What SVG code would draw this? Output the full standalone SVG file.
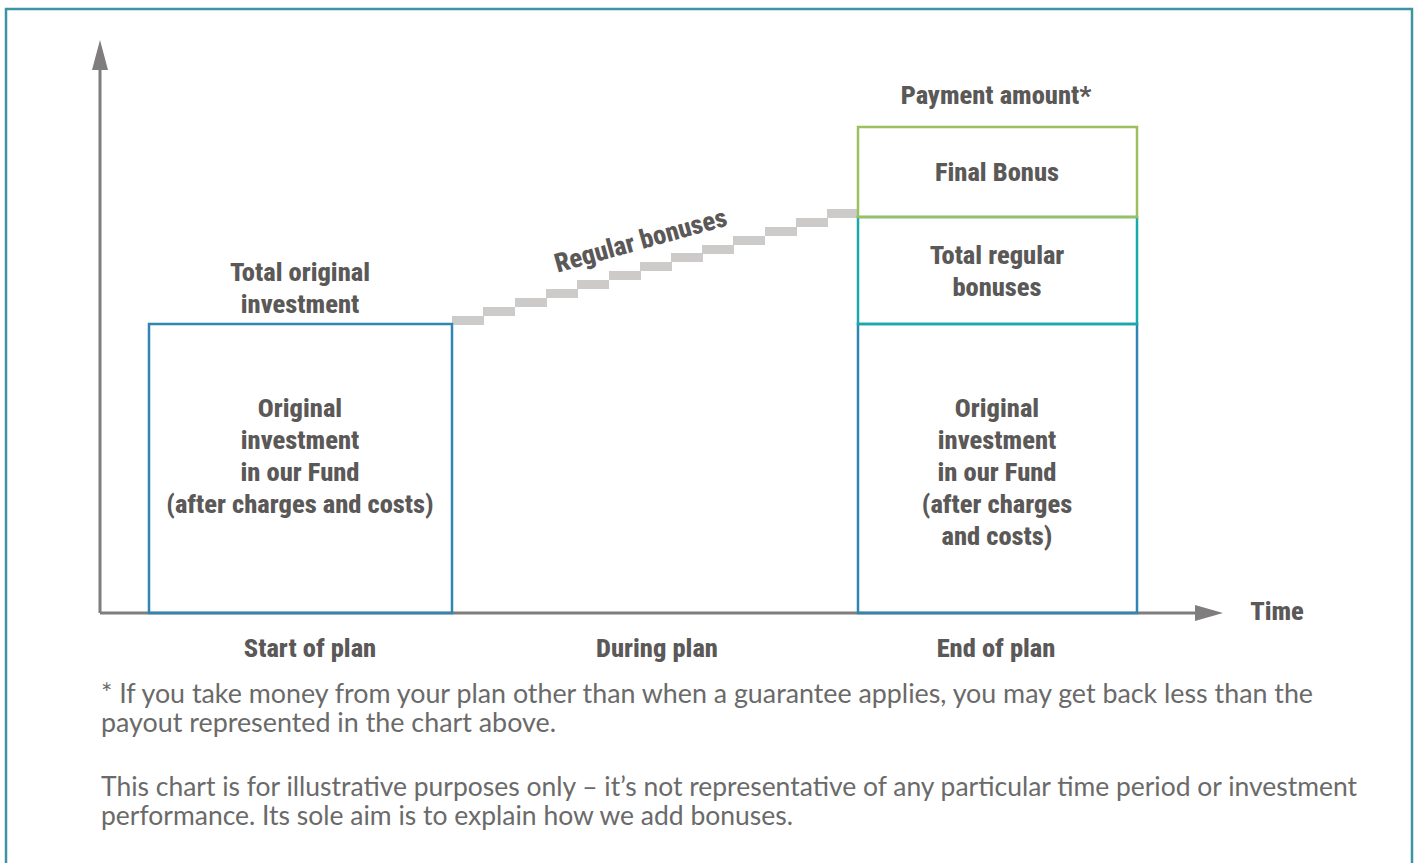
<svg xmlns="http://www.w3.org/2000/svg" width="1417" height="863" viewBox="0 0 1417 863">
<style>
.b{font-family:"Roboto Condensed","Roboto","Liberation Sans",sans-serif;font-stretch:condensed;font-weight:800;font-size:26.5px;fill:#5b5858;text-anchor:middle}
.n{font-family:"Lato","Open Sans","Liberation Sans",sans-serif;font-size:26px;fill:#6a6a6a}
.ax{stroke:#7f7d7d;stroke-width:3;fill:none}
.st{fill:#cccbca}
</style>
<rect width="1417" height="863" fill="#fff"/>
<path d="M6,870 V9 H1412 V870" fill="none" stroke="#3d95a3" stroke-width="2.5"/>
<g id="connectors">
<path d="M100,613 V70" class="ax"/>
<path d="M100,40 L108,70 L92,70 Z" fill="#7f7d7d"/>
<path d="M100,613 H1195" class="ax"/>
<path d="M1223,613 L1195,605 L1195,621 Z" fill="#7f7d7d"/>
</g>
<g id="stairs">
<rect class="st" x="452" y="316" width="32" height="9"/>
<rect class="st" x="483" y="307" width="32" height="9"/>
<rect class="st" x="515" y="298" width="32" height="9"/>
<rect class="st" x="546" y="289" width="32" height="9"/>
<rect class="st" x="577" y="280" width="32" height="9"/>
<rect class="st" x="609" y="271" width="32" height="9"/>
<rect class="st" x="640" y="262" width="32" height="9"/>
<rect class="st" x="671" y="253" width="32" height="9"/>
<rect class="st" x="702" y="245" width="32" height="9"/>
<rect class="st" x="733" y="236" width="32" height="9"/>
<rect class="st" x="765" y="227" width="32" height="9"/>
<rect class="st" x="796" y="218" width="32" height="9"/>
<rect class="st" x="827" y="209" width="31" height="9"/>
<text class="b" x="0" y="0" transform="translate(643,249) rotate(-15.5)">Regular bonuses</text>
</g>
<g id="start-box">
<rect x="149" y="324" width="303" height="289" fill="none" stroke="#2f86b4" stroke-width="2.5"/>
<text class="b" x="300" y="417">Original</text>
<text class="b" x="300" y="449">investment</text>
<text class="b" x="300" y="481">in our Fund</text>
<text class="b" x="300" y="513">(after charges and costs)</text>
</g>
<g id="start-label">
<text class="b" x="300" y="281">Total original</text>
<text class="b" x="300" y="313">investment</text>
</g>
<g id="end-original">
<rect x="858" y="324" width="279" height="289" fill="none" stroke="#2f86b4" stroke-width="2.5"/>
<text class="b" x="997" y="417">Original</text>
<text class="b" x="997" y="449">investment</text>
<text class="b" x="997" y="481">in our Fund</text>
<text class="b" x="997" y="513">(after charges</text>
<text class="b" x="997" y="545">and costs)</text>
</g>
<g id="end-regular">
<rect x="858" y="217" width="279" height="107" fill="none" stroke="#18aaa8" stroke-width="2.5"/>
<text class="b" x="997" y="264">Total regular</text>
<text class="b" x="997" y="296">bonuses</text>
</g>
<g id="end-final">
<rect x="858" y="127" width="279" height="90" fill="none" stroke="#9dbf5e" stroke-width="2.5"/>
<text class="b" x="997" y="181">Final Bonus</text>
</g>
<g id="labels">
<text class="b" x="996" y="104">Payment amount*</text>
<text class="b" x="1277" y="620">Time</text>
<text class="b" x="310" y="657">Start of plan</text>
<text class="b" x="657" y="657">During plan</text>
<text class="b" x="996" y="657">End of plan</text>
</g>
<g id="notes">
<text class="n" x="101" y="703" textLength="1212" lengthAdjust="spacingAndGlyphs">* If you take money from your plan other than when a guarantee applies, you may get back less than the</text>
<text class="n" x="101" y="732" textLength="455" lengthAdjust="spacingAndGlyphs">payout represented in the chart above.</text>
<text class="n" x="101" y="796" textLength="1256" lengthAdjust="spacingAndGlyphs">This chart is for illustrative purposes only – it’s not representative of any particular time period or investment</text>
<text class="n" x="101" y="825" textLength="692" lengthAdjust="spacingAndGlyphs">performance. Its sole aim is to explain how we add bonuses.</text>
</g>
</svg>
